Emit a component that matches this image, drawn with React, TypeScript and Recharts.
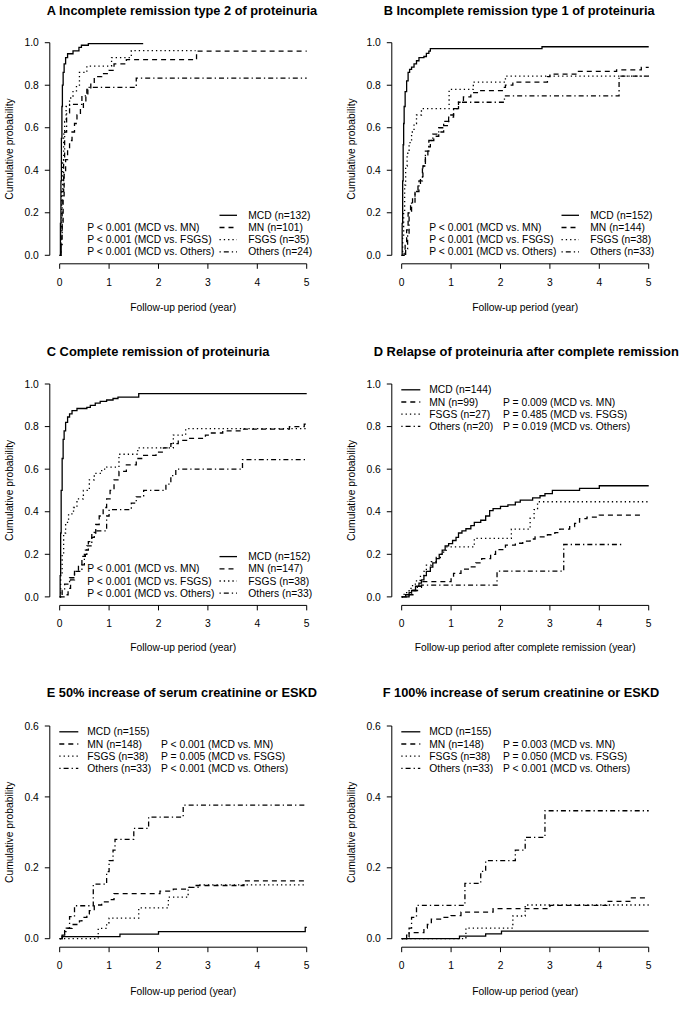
import React from 'react';
import { LineChart, Line, XAxis, YAxis, ReferenceLine, Legend } from 'recharts';

type Pt = [number, number];

// ---------- Panel A: Incomplete remission type 2 ----------
const A_MCD: Pt[] = [[0,0],[0.015,0.15],[0.025,0.35],[0.035,0.55],[0.045,0.7],[0.055,0.8],[0.07,0.86],[0.09,0.9],[0.12,0.93],[0.16,0.948],[0.27,0.962],[0.39,0.978],[0.44,0.988],[0.58,0.996],[1.69,0.996]];
const A_MN: Pt[] = [[0,0],[0.03,0.05],[0.05,0.15],[0.07,0.28],[0.09,0.38],[0.12,0.45],[0.16,0.5],[0.2,0.54],[0.25,0.58],[0.3,0.62],[0.35,0.66],[0.42,0.69],[0.48,0.72],[0.53,0.75],[0.57,0.78],[0.63,0.81],[0.7,0.84],[0.85,0.855],[1.0,0.87],[1.1,0.9],[1.35,0.92],[2.77,0.96],[5,0.96]];
const A_FSGS: Pt[] = [[0,0],[0.02,0.1],[0.04,0.3],[0.06,0.45],[0.08,0.57],[0.1,0.63],[0.13,0.7],[0.2,0.74],[0.27,0.77],[0.34,0.8],[0.4,0.86],[0.55,0.89],[1.05,0.93],[1.45,0.963],[2.75,0.963]];
const A_OTH: Pt[] = [[0,0],[0.03,0.1],[0.05,0.3],[0.08,0.45],[0.1,0.58],[0.14,0.67],[0.2,0.71],[0.45,0.75],[0.55,0.79],[1.55,0.833],[5,0.833]];
const A_N = [132, 101, 35, 24];

// ---------- Panel B: Incomplete remission type 1 ----------
const B_MCD: Pt[] = [[0,0],[0.01,0.15],[0.02,0.35],[0.03,0.52],[0.04,0.62],[0.05,0.7],[0.07,0.77],[0.1,0.82],[0.13,0.86],[0.16,0.875],[0.2,0.885],[0.25,0.9],[0.3,0.915],[0.35,0.93],[0.45,0.935],[0.5,0.95],[0.55,0.96],[0.58,0.972],[2.84,0.981],[5,0.981]];
const B_MN: Pt[] = [[0,0],[0.05,0.02],[0.07,0.06],[0.1,0.12],[0.13,0.2],[0.18,0.24],[0.22,0.27],[0.27,0.3],[0.33,0.33],[0.38,0.37],[0.43,0.42],[0.48,0.46],[0.53,0.51],[0.58,0.54],[0.65,0.56],[0.75,0.58],[0.85,0.61],[0.95,0.65],[1.05,0.69],[1.15,0.72],[1.25,0.745],[1.4,0.765],[1.6,0.775],[2.05,0.79],[2.1,0.8],[2.25,0.815],[2.95,0.84],[3.0,0.852],[3.55,0.865],[4.35,0.872],[4.85,0.884],[5,0.884]];
const B_FSGS: Pt[] = [[0,0],[0.02,0.08],[0.04,0.2],[0.06,0.33],[0.08,0.42],[0.11,0.48],[0.15,0.53],[0.2,0.58],[0.25,0.62],[0.3,0.66],[0.4,0.69],[0.96,0.78],[1.45,0.815],[2.1,0.843],[5,0.843]];
const B_OTH: Pt[] = [[0,0],[0.08,0.03],[0.12,0.1],[0.15,0.2],[0.2,0.25],[0.27,0.3],[0.35,0.35],[0.42,0.42],[0.48,0.49],[0.55,0.54],[0.63,0.57],[0.75,0.6],[0.85,0.63],[0.95,0.66],[1.05,0.69],[1.15,0.72],[2.08,0.75],[4.4,0.843],[5,0.843]];
const B_N = [152, 144, 38, 33];

// ---------- Panel C: Complete remission ----------
const C_MCD: Pt[] = [[0,0],[0.01,0.1],[0.02,0.3],[0.03,0.5],[0.05,0.65],[0.07,0.74],[0.09,0.78],[0.12,0.82],[0.16,0.845],[0.2,0.86],[0.25,0.875],[0.35,0.885],[0.55,0.89],[0.62,0.9],[0.72,0.91],[0.82,0.918],[0.95,0.925],[1.08,0.932],[1.18,0.938],[1.6,0.955],[5,0.955]];
const C_MN: Pt[] = [[0,0],[0.12,0.01],[0.17,0.04],[0.22,0.08],[0.3,0.12],[0.38,0.15],[0.45,0.19],[0.52,0.22],[0.58,0.26],[0.65,0.3],[0.73,0.34],[0.8,0.38],[0.88,0.42],[0.95,0.46],[1.02,0.5],[1.1,0.55],[1.2,0.59],[1.35,0.62],[1.55,0.65],[1.7,0.665],[1.95,0.68],[2.1,0.7],[2.25,0.72],[2.4,0.735],[2.6,0.745],[2.95,0.76],[3.05,0.77],[3.3,0.78],[3.7,0.788],[4.65,0.8],[4.95,0.812],[5,0.812]];
const C_FSGS: Pt[] = [[0,0],[0.02,0.1],[0.05,0.2],[0.08,0.3],[0.12,0.35],[0.18,0.39],[0.28,0.42],[0.35,0.46],[0.48,0.5],[0.6,0.55],[0.7,0.58],[0.85,0.6],[0.95,0.61],[1.2,0.67],[1.58,0.7],[2.3,0.76],[2.55,0.79],[5,0.79]];
const C_OTH: Pt[] = [[0,0],[0.05,0.03],[0.1,0.06],[0.2,0.09],[0.3,0.12],[0.45,0.15],[0.5,0.2],[0.55,0.24],[0.65,0.28],[0.7,0.31],[0.95,0.38],[1.0,0.41],[1.45,0.44],[1.55,0.47],[1.7,0.5],[2.15,0.53],[2.25,0.57],[2.35,0.6],[3.7,0.645],[5,0.645]];
const C_N = [152, 147, 38, 33];

// ---------- Panel D: Relapse after complete remission ----------
const D_MCD: Pt[] = [[0,0],[0.08,0.01],[0.15,0.02],[0.2,0.03],[0.28,0.05],[0.35,0.065],[0.4,0.08],[0.45,0.1],[0.5,0.12],[0.58,0.14],[0.63,0.16],[0.7,0.18],[0.76,0.2],[0.82,0.22],[0.88,0.24],[0.95,0.25],[1.03,0.265],[1.1,0.28],[1.15,0.3],[1.22,0.31],[1.3,0.32],[1.4,0.335],[1.47,0.35],[1.6,0.36],[1.7,0.38],[1.78,0.405],[1.85,0.415],[2.0,0.425],[2.15,0.432],[2.3,0.445],[2.4,0.455],[2.65,0.465],[2.8,0.475],[2.9,0.485],[3.05,0.5],[3.6,0.51],[4.0,0.522],[5,0.522]];
const D_MN: Pt[] = [[0,0],[0.12,0.01],[0.25,0.03],[0.32,0.05],[0.4,0.072],[1.0,0.09],[1.05,0.11],[1.2,0.13],[1.35,0.141],[1.5,0.16],[1.62,0.18],[1.8,0.2],[1.9,0.222],[2.1,0.243],[2.3,0.252],[2.45,0.262],[2.6,0.272],[2.7,0.282],[2.95,0.292],[3.1,0.302],[3.2,0.318],[3.4,0.33],[3.5,0.345],[3.6,0.368],[3.75,0.375],[4.0,0.384],[4.9,0.384]];
const D_FSGS: Pt[] = [[0,0],[0.05,0.02],[0.15,0.04],[0.22,0.06],[0.3,0.078],[0.38,0.1],[0.45,0.12],[0.5,0.149],[0.6,0.165],[0.7,0.185],[0.8,0.21],[0.9,0.235],[1.47,0.275],[2.22,0.318],[2.6,0.37],[2.68,0.41],[2.75,0.447],[5,0.447]];
const D_OTH: Pt[] = [[0,0],[0.15,0.01],[0.2,0.03],[0.3,0.045],[0.4,0.055],[1.93,0.121],[3.28,0.246],[4.5,0.246]];
const D_N = [144, 99, 27, 20];

// ---------- Panel E: 50% increase of serum creatinine or ESKD ----------
const E_MCD: Pt[] = [[0,0],[0.05,0.006],[1.22,0.013],[2.0,0.02],[4.97,0.032],[5,0.032]];
const E_MN: Pt[] = [[0,0],[0.05,0.007],[0.1,0.02],[0.15,0.029],[0.25,0.04],[0.4,0.05],[0.45,0.06],[0.55,0.07],[0.6,0.079],[0.7,0.095],[0.85,0.104],[1.0,0.11],[1.1,0.127],[2.03,0.134],[2.3,0.14],[2.6,0.145],[2.7,0.15],[3.73,0.163],[5,0.163]];
const E_FSGS: Pt[] = [[0,0],[0.78,0.029],[0.95,0.045],[1.0,0.058],[1.6,0.087],[2.2,0.117],[2.6,0.145],[2.8,0.152],[5,0.152]];
const E_OTH: Pt[] = [[0,0],[0.05,0.01],[0.1,0.03],[0.2,0.062],[0.3,0.093],[0.68,0.154],[0.95,0.189],[1.0,0.22],[1.08,0.25],[1.12,0.28],[1.5,0.311],[1.8,0.343],[2.5,0.377],[5,0.377]];
const E_N = [155, 148, 38, 33];

// ---------- Panel F: 100% increase of serum creatinine or ESKD ----------
const F_MCD: Pt[] = [[0,0],[1.17,0.0075],[1.7,0.0135],[2.02,0.0215],[5,0.0215]];
const F_MN: Pt[] = [[0,0],[0.1,0.005],[0.15,0.017],[0.45,0.03],[0.52,0.04],[0.6,0.055],[0.8,0.06],[1.0,0.065],[1.2,0.075],[1.85,0.085],[3.0,0.094],[4.15,0.105],[4.65,0.115],[5,0.115]];
const F_FSGS: Pt[] = [[0,0],[1.3,0.03],[2.25,0.064],[2.5,0.095],[5,0.095]];
const F_OTH: Pt[] = [[0,0],[0.1,0.01],[0.15,0.03],[0.2,0.06],[0.3,0.094],[1.28,0.156],[1.6,0.19],[1.7,0.22],[2.3,0.25],[2.5,0.286],[2.9,0.361],[5,0.361]];
const F_N = [155, 148, 38, 33];

const GROUPS = ['MCD', 'MN', 'FSGS', 'Others'];
const X_TICKS = [0, 1, 2, 3, 4, 5];
const Y_TICKS_1 = [0, 0.2, 0.4, 0.6, 0.8, 1.0];
const Y_TICKS_06 = [0, 0.2, 0.4, 0.6];

const P_ABC = ['P < 0.001 (MCD vs. MN)', 'P < 0.001 (MCD vs. FSGS)', 'P < 0.001 (MCD vs. Others)'];
const P_D = ['P = 0.009 (MCD vs. MN)', 'P = 0.485 (MCD vs. FSGS)', 'P = 0.019 (MCD vs. Others)'];
const P_E = ['P < 0.001 (MCD vs. MN)', 'P = 0.005 (MCD vs. FSGS)', 'P < 0.001 (MCD vs. Others)'];
const P_F = ['P = 0.003 (MCD vs. MN)', 'P = 0.050 (MCD vs. FSGS)', 'P < 0.001 (MCD vs. Others)'];

const FONT = '"Liberation Sans", Arial, Helvetica, sans-serif';
const DASH = ['', '5 4', '1.3 3', '1.3 3 5 3'];
const W = 342;
const PLOT_LEFT = 49.8;
const PLOT_RIGHT = 316.6;

interface PanelCfg {
  left: number; top: number; height: number;
  title: string; titleX: number; titleSize: number;
  xLabel: string; xLabelY: number;
  plotTop: number; plotBottom: number;
  yMax: number; yTicks: number[];
  series: Pt[][]; n: number[]; pvals: string[];
  legend: 'br' | 'tl';
}

const PANELS: PanelCfg[] = [
  { left: 0, top: 0, height: 341, title: 'A Incomplete remission type 2 of proteinuria', titleX: 46.7, titleSize: 12.8,
    xLabel: 'Follow-up period (year)', xLabelY: 307.3, plotTop: 34.2, plotBottom: 263.8, yMax: 1, yTicks: Y_TICKS_1,
    series: [A_MCD, A_MN, A_FSGS, A_OTH], n: A_N, pvals: P_ABC, legend: 'br' },
  { left: 342, top: 0, height: 341, title: 'B Incomplete remission type 1 of proteinuria', titleX: 41.7, titleSize: 12.8,
    xLabel: 'Follow-up period (year)', xLabelY: 307.3, plotTop: 34.2, plotBottom: 263.8, yMax: 1, yTicks: Y_TICKS_1,
    series: [B_MCD, B_MN, B_FSGS, B_OTH], n: B_N, pvals: P_ABC, legend: 'br' },
  { left: 0, top: 341, height: 341, title: 'C Complete remission of proteinuria', titleX: 46.7, titleSize: 12.9,
    xLabel: 'Follow-up period (year)', xLabelY: 306.8, plotTop: 34.5, plotBottom: 264.4, yMax: 1, yTicks: Y_TICKS_1,
    series: [C_MCD, C_MN, C_FSGS, C_OTH], n: C_N, pvals: P_ABC, legend: 'br' },
  { left: 342, top: 341, height: 341, title: 'D Relapse of proteinuria after complete remission', titleX: 31.7, titleSize: 12.9,
    xLabel: 'Follow-up period after complete remission (year)', xLabelY: 306.8, plotTop: 34.5, plotBottom: 264.4, yMax: 1, yTicks: Y_TICKS_1,
    series: [D_MCD, D_MN, D_FSGS, D_OTH], n: D_N, pvals: P_D, legend: 'tl' },
  { left: 0, top: 682, height: 328, title: 'E 50% increase of serum creatinine or ESKD', titleX: 46.7, titleSize: 12.8,
    xLabel: 'Follow-up period (year)', xLabelY: 309.7, plotTop: 35.5, plotBottom: 265.2, yMax: 0.6, yTicks: Y_TICKS_06,
    series: [E_MCD, E_MN, E_FSGS, E_OTH], n: E_N, pvals: P_E, legend: 'tl' },
  { left: 342, top: 682, height: 328, title: 'F 100% increase of serum creatinine or ESKD', titleX: 40.7, titleSize: 12.8,
    xLabel: 'Follow-up period (year)', xLabelY: 309.7, plotTop: 35.5, plotBottom: 265.2, yMax: 0.6, yTicks: Y_TICKS_06,
    series: [F_MCD, F_MN, F_FSGS, F_OTH], n: F_N, pvals: P_F, legend: 'tl' },
];

const FS = 10.3;

function Annotations({ cfg }: { cfg: PanelCfg }) {
  const midY = (cfg.plotTop + cfg.plotBottom) / 2;
  const midX = (PLOT_LEFT + PLOT_RIGHT) / 2;
  const br = cfg.legend === 'br';
  const rowY = br ? [215.3, 227.5, 239.7, 251.9] : [48.5, 60.7, 72.9, 85.1];
  const off = cfg.plotTop - 34.2;
  const lx1 = br ? 219.5 : 59.3;
  const lx2 = br ? 237 : 78.3;
  const tx = br ? 248.3 : 87.3;
  const px = br ? 87.3 : 161;
  return (
    <svg width={W} height={cfg.height} style={{ display: 'block', position: 'absolute', left: 0, top: 0, overflow: 'hidden' }} fontFamily={FONT}>
      <text x={cfg.titleX} y={10.7} fontSize={cfg.titleSize} fontWeight="bold" fill="#000" dominantBaseline="central">{cfg.title}</text>
      <text transform={`translate(9.2, ${midY}) rotate(-90)`} textAnchor="middle" dominantBaseline="central" fontSize={FS} fill="#000">Cumulative probability</text>
      <text x={midX} y={cfg.xLabelY} textAnchor="middle" dominantBaseline="central" fontSize={FS} fill="#000">{cfg.xLabel}</text>
      {GROUPS.map((g, i) => (
        <g key={g}>
          <line x1={lx1} x2={lx2} y1={rowY[i] + off} y2={rowY[i] + off} stroke="#000" strokeWidth={1.3} strokeDasharray={DASH[i] || undefined} />
          <text x={tx} y={rowY[i] + off} dominantBaseline="central" fontSize={FS} fill="#000">{`${g} (n=${cfg.n[i]})`}</text>
        </g>
      ))}
      {cfg.pvals.map((p, i) => (
        <text key={p + i} x={px} y={rowY[i + 1] + off} dominantBaseline="central" fontSize={FS} fill="#000">{p}</text>
      ))}
    </svg>
  );
}

function Panel({ cfg }: { cfg: PanelCfg }) {
  const H = cfg.height;
  const yMax = cfg.yMax;
  const pad = 0.04 * yMax;
  return (
    <div style={{ position: 'absolute', left: cfg.left, top: cfg.top, width: W, height: H, fontFamily: FONT }}>
      <LineChart width={W} height={H} margin={{ top: cfg.plotTop, right: W - PLOT_RIGHT, bottom: H - cfg.plotBottom - 30, left: PLOT_LEFT - 45 }}>
        <XAxis type="number" dataKey="x" domain={[-0.2, 5.2]} ticks={X_TICKS} allowDataOverflow interval={0}
          axisLine={false} stroke="#000" tickLine={{ stroke: '#000', strokeWidth: 1 }} tickSize={5} tickMargin={9.5}
          tick={{ fill: '#000', fontSize: FS }} height={30} />
        <YAxis type="number" domain={[-pad, yMax + pad]} ticks={cfg.yTicks} allowDataOverflow interval={0}
          axisLine={false} stroke="#000" tickLine={{ stroke: '#000', strokeWidth: 1 }} tickSize={5} tickMargin={6}
          tick={{ fill: '#000', fontSize: FS }} width={45} tickFormatter={(v: number) => v.toFixed(1)} />
        <ReferenceLine segment={[{ x: 0, y: -pad }, { x: 5, y: -pad }]} stroke="#000" strokeWidth={1} ifOverflow="visible" />
        <ReferenceLine segment={[{ x: -0.2, y: 0 }, { x: -0.2, y: yMax }]} stroke="#000" strokeWidth={1} ifOverflow="visible" />
        {cfg.series.map((s, i) => {
          const key = GROUPS[i];
          const rows = s.map(([t, v]) => ({ x: t, [key]: v }));
          return (
            <Line key={key} name={key} data={rows} dataKey={key} type="stepAfter" stroke="#000" strokeWidth={1.3}
              strokeDasharray={DASH[i] || undefined} dot={false} activeDot={false} isAnimationActive={false} />
          );
        })}
        <Legend content={() => <Annotations cfg={cfg} />} layout="horizontal" verticalAlign="middle" align="center"
          wrapperStyle={{ position: 'absolute', left: 0, top: 0, width: W, height: H, margin: 0, padding: 0 }} />
      </LineChart>
    </div>
  );
}

export default function App() {
  return (
    <div style={{ position: 'absolute', left: 0, top: 0, width: 685, height: 1010, background: '#fff', overflow: 'hidden' }}>
      {PANELS.map((p) => <Panel key={p.title} cfg={p} />)}
    </div>
  );
}
